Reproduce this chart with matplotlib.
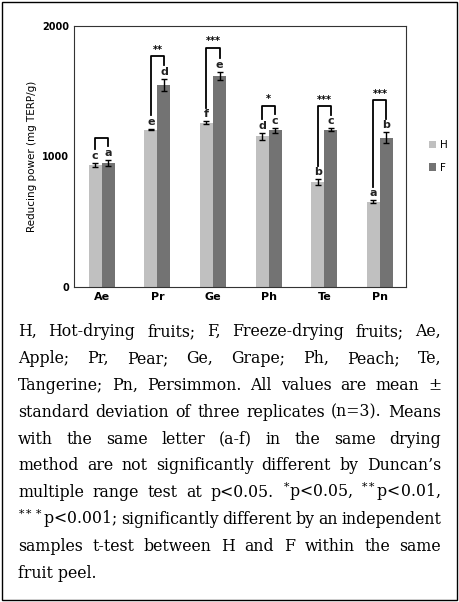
import matplotlib
matplotlib.use("Agg")
import matplotlib.pyplot as plt
import numpy as np
from matplotlib.patches import Rectangle

fruits = ["Ae", "Pr", "Ge", "Ph", "Te", "Pn"]
h_vals = [935, 1205, 1260, 1155, 805, 655]
f_vals = [950, 1550, 1620, 1200, 1205, 1145]
h_err = [15, 5, 10, 25, 20, 10]
f_err = [25, 45, 30, 20, 10, 40]
h_letters = ["c", "e", "f", "d", "b", "a"]
f_letters = ["a", "d", "e", "c", "c", "b"]
sig = ["", "**", "***", "*", "***", "***"]
bracket_top = [1140, 1770, 1834, 1390, 1388, 1434]

caption_lines = [
    "H, Hot-drying fruits; F, Freeze-drying fruits; Ae,",
    "Apple; Pr, Pear; Ge, Grape; Ph, Peach; Te,",
    "Tangerine; Pn, Persimmon. All values are mean \u00b1",
    "standard deviation of three replicates (n=3). Means",
    "with the same letter (a-f) in the same drying",
    "method are not significantly different by Duncan\u2019s",
    "multiple range test at p<0.05. $^{*}$p<0.05, $^{**}$p<0.01,",
    "$^{***}$p<0.001; significantly different by an independent",
    "samples t-test between H and F within the same",
    "fruit peel.",
]

plt.rcParams['mathtext.fontset'] = 'dejavuserif'
W, H = 459, 602
fig = plt.figure(figsize=(W/100, H/100), dpi=100)
fig.patches.append(Rectangle((2/W, 2/H), 1-4/W, 1-4/H, transform=fig.transFigure,
                             fill=False, edgecolor='black', linewidth=1))
ax = fig.add_axes([74/W, 1-287/H, (406-74)/W, (287-26)/H])
x = np.arange(len(fruits))
w = 0.235
ax.bar(x - w/2, h_vals, w, color='#c0c0c0', yerr=h_err, capsize=2.5,
       error_kw=dict(elinewidth=1, capthick=1), label='H')
ax.bar(x + w/2, f_vals, w, color='#737373', yerr=f_err, capsize=2.5,
       error_kw=dict(elinewidth=1, capthick=1), label='F')
for i in range(len(fruits)):
    yh = h_vals[i] + h_err[i] + 15
    yf = f_vals[i] + f_err[i] + 15
    ax.text(x[i]-w/2, yh, h_letters[i], ha='center', va='bottom', fontsize=8, fontweight='bold', color='#222')
    ax.text(x[i]+w/2, yf, f_letters[i], ha='center', va='bottom', fontsize=8, fontweight='bold', color='#222')
    bt = bracket_top[i]
    ax.plot([x[i]-w/2, x[i]-w/2, x[i]+w/2, x[i]+w/2],
            [yh+90, bt, bt, yf+90], color='black', lw=1.3)
    if sig[i]:
        ax.text(x[i], bt + 10, sig[i], ha='center', va='bottom', fontsize=7, fontweight='bold')
ax.set_xlim(-0.5, 5.47)
ax.set_ylim(0, 2000)
ax.set_yticks([0, 1000, 2000])
ax.set_xticks(x)
ax.set_xticklabels(fruits, fontsize=8, fontweight='bold')
ax.tick_params(axis='y', labelsize=7, length=0)
for t in ax.get_yticklabels():
    t.set_fontweight('bold')
ax.tick_params(axis='x', length=0)
for s in ax.spines.values():
    s.set_color('#333333')
ax.set_ylabel("Reducing power (mg TERP/g)", fontsize=7.5)
ax.legend(loc='center left', bbox_to_anchor=(1.04, 0.5), frameon=False, fontsize=7.5,
          handlelength=0.7, handleheight=0.7, labelspacing=1.2, handletextpad=0.4)

# justified caption
fig.canvas.draw()
r = fig.canvas.get_renderer()
x0, x1 = 18, 441
fs = 11.3
for li, line in enumerate(caption_lines):
    yb = 1 - (336 + li*26.9)/H
    words = line.split(' ')
    if li == len(caption_lines) - 1:
        fig.text(x0/W, yb, line, fontsize=fs, family='DejaVu Serif', va='baseline')
        continue
    arts = [fig.text(0, yb, wd, fontsize=fs, family='DejaVu Serif', va='baseline') for wd in words]
    widths = [a.get_window_extent(r).width for a in arts]
    gap = (x1 - x0 - sum(widths)) / (len(words) - 1)
    cx = x0
    for a, wd in zip(arts, widths):
        a.set_x(cx/W)
        cx += wd + gap
fig.savefig("out.png", dpi=100)
